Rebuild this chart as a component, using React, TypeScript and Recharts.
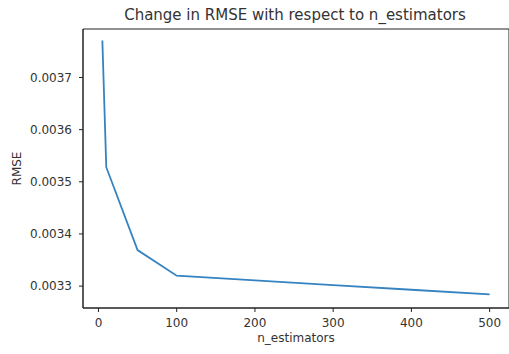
import React from 'react';
import { LineChart, Line, XAxis, YAxis, ReferenceArea } from 'recharts';

const nEstimators = [5, 10, 50, 100, 200, 300, 400, 500];
const rmse = [0.003771, 0.003528, 0.003369, 0.00332, 0.003311, 0.003302, 0.003293, 0.003284];
const xTicks = [0, 100, 200, 300, 400, 500];
const yTicks = [0.0033, 0.0034, 0.0035, 0.0036, 0.0037];

const data = nEstimators.map((n, i) => ({ n, rmse: rmse[i] }));

const FONT = 'DejaVu Sans, sans-serif';
const TXT = '#333333';
const AX = '#222222';
const X_DOMAIN: [number, number] = [-19.75, 524.75];
const Y_DOMAIN: [number, number] = [0.003258, 0.003793];

export default function App() {
  return (
    <div style={{ position: 'absolute', left: 0, top: 0, width: 509, height: 354, background: '#fff' }}>
      <div
        style={{
          position: 'absolute',
          left: 83,
          width: 424,
          top: 7,
          textAlign: 'center',
          fontFamily: FONT,
          fontSize: 15,
          lineHeight: '17px',
          color: TXT,
          whiteSpace: 'nowrap',
        }}
      >
        Change in RMSE with respect to n_estimators
      </div>
      <LineChart width={509} height={354} data={data} margin={{ top: 29, right: 0, bottom: 0, left: 0 }}>
        <XAxis
          type="number"
          dataKey="n"
          domain={X_DOMAIN}
          ticks={xTicks}
          allowDataOverflow
          height={46}
          tickSize={4}
          tickMargin={6}
          stroke={AX}
          tick={{ fill: TXT, fontSize: 12, fontFamily: FONT }}
          tickLine={{ stroke: AX }}
          axisLine={{ stroke: AX }}
          label={{ value: 'n_estimators', position: 'insideBottom', offset: 12, fill: TXT, fontSize: 12, fontFamily: FONT }}
        />
        <YAxis
          type="number"
          domain={Y_DOMAIN}
          ticks={yTicks}
          allowDataOverflow
          width={83}
          tickSize={4}
          tickMargin={7}
          stroke={AX}
          tickFormatter={(v: number) => v.toFixed(4)}
          tick={{ fill: TXT, fontSize: 12, fontFamily: FONT }}
          tickLine={{ stroke: AX }}
          axisLine={{ stroke: AX }}
          label={{
            value: 'RMSE',
            angle: -90,
            position: 'insideLeft',
            offset: 17,
            fill: TXT,
            fontSize: 12,
            fontFamily: FONT,
            style: { textAnchor: 'middle' },
          }}
        />
        <ReferenceArea
          x1={X_DOMAIN[0]}
          x2={X_DOMAIN[1]}
          y1={Y_DOMAIN[0]}
          y2={Y_DOMAIN[1]}
          fill="none"
          stroke={AX}
          strokeWidth={1}
        />
        <Line
          type="linear"
          dataKey="rmse"
          stroke="#3583c0"
          strokeWidth={1.8}
          dot={false}
          isAnimationActive={false}
        />
      </LineChart>
    </div>
  );
}
